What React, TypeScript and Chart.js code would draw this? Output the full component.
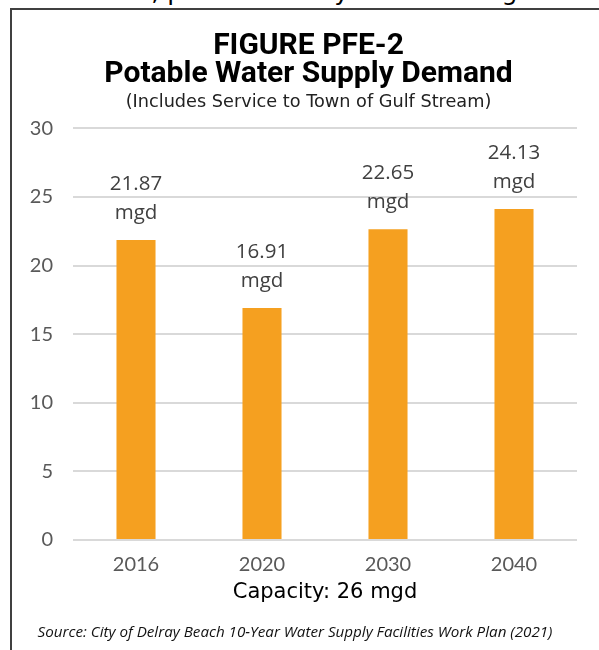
import React, { useEffect, useRef } from 'react';
import { Chart, registerables } from 'chart.js';

Chart.register(...registerables);

const categories = ['2016', '2020', '2030', '2040'];
const demand = [21.87, 16.91, 22.65, 24.13];
const unitLabel = 'mgd';
const titleLines = ['FIGURE PFE-2', 'Potable Water Supply Demand'];
const subtitleText = '(Includes Service to Town of Gulf Stream)';
const capacityText = 'Capacity: 26 mgd';
const sourceText = 'Source: City of Delray Beach 10-Year Water Supply Facilities Work Plan (2021)';
const headerFragment = 'service area, predominantly used for irrigation';
const yMin = 0;
const yMax = 30;
const yStep = 5;

const labelFont = "'Open Sans', 'Noto Sans', sans-serif";
const tickFont = "Lato, 'Noto Sans', sans-serif";
const wideFont = "'DejaVu Sans', sans-serif";
const titleFont = "Roboto, sans-serif";

const titleShift = {
  id: 'titleShift',
  afterLayout(chart: any) {
    chart.boxes.forEach((box: any) => {
      if (box && box.options && box.options.text !== undefined && !box.axis) {
        box.left += 14;
        box.right += 14;
      }
    });
  },
};

const valueLabels = {
  id: 'valueLabels',
  afterDatasetsDraw(chart: any) {
    const ctx = chart.ctx;
    const meta = chart.getDatasetMeta(0);
    ctx.save();
    ctx.fillStyle = '#404040';
    ctx.font = `20.5px ${labelFont}`;
    ctx.textAlign = 'center';
    ctx.textBaseline = 'middle';
    meta.data.forEach((bar: any, i: number) => {
      const v = chart.data.datasets[0].data[i] as number;
      ctx.fillText(v.toFixed(2), bar.x, bar.y - 56);
      ctx.fillText(unitLabel, bar.x, bar.y - 27);
    });
    ctx.restore();
  },
};

const sourceNote = {
  id: 'sourceNote',
  afterDraw(chart: any) {
    const ctx = chart.ctx;
    ctx.save();
    ctx.fillStyle = '#111';
    ctx.font = `italic 15.2px ${labelFont}`;
    ctx.textAlign = 'center';
    ctx.textBaseline = 'middle';
    ctx.fillText(sourceText, 295, 633);
    ctx.restore();
  },
};

export default function App() {
  const canvasRef = useRef<HTMLCanvasElement | null>(null);

  useEffect(() => {
    if (!canvasRef.current) return;
    const chart = new Chart(canvasRef.current, {
      type: 'bar',
      data: {
        labels: categories,
        datasets: [
          {
            data: demand,
            backgroundColor: '#F5A020',
            borderWidth: 0,
            barPercentage: 0.31,
            categoryPercentage: 1,
          },
        ],
      },
      options: {
        responsive: false,
        animation: false,
        devicePixelRatio: 1,
        layout: { padding: { left: 12, right: 22, top: 0, bottom: 39.4 } },
        plugins: {
          legend: { display: false },
          tooltip: { enabled: false },
          title: {
            display: true,
            text: titleLines,
            color: '#000',
            font: { family: titleFont, size: 30, weight: 'bold', lineHeight: 0.93 },
            padding: { top: 33, bottom: 0 },
          },
          subtitle: {
            display: true,
            text: subtitleText,
            color: '#222',
            font: { family: wideFont, size: 17.7, lineHeight: 1.2 },
            padding: { top: 3, bottom: 15.3 },
          },
        },
        scales: {
          x: {
            grid: { display: false, drawTicks: false },
            border: { display: false },
            ticks: {
              color: '#595959',
              font: { family: tickFont, size: 20 },
              padding: 13,
            },
            title: {
              display: true,
              text: capacityText,
              color: '#000',
              font: { family: wideFont, size: 21, lineHeight: 1.2 },
              padding: { top: 0.6, bottom: 5 },
            },
            afterFit(scale: any) {
              scale.height = 70.6;
            },
          },
          y: {
            min: yMin,
            max: yMax,
            grid: { color: '#d9d9d9', lineWidth: 2, drawTicks: false },
            border: { display: false },
            ticks: {
              stepSize: yStep,
              color: '#595959',
              font: { family: tickFont, size: 20 },
              padding: 20,
            },
            afterFit(scale: any) {
              scale.width = 61;
            },
          },
        },
      },
      plugins: [titleShift, valueLabels, sourceNote],
    });
    return () => chart.destroy();
  }, []);

  return (
    <div
      style={{
        position: 'fixed',
        left: 0,
        top: 0,
        width: 599,
        height: 650,
        overflow: 'hidden',
        background: '#fff',
      }}
    >
      <div
        style={{
          position: 'absolute',
          left: -2,
          top: -20,
          fontFamily: wideFont,
          fontSize: 25,
          lineHeight: '24px',
          whiteSpace: 'nowrap',
          color: '#000',
        }}
      >
        {headerFragment}
      </div>
      <div
        style={{
          position: 'absolute',
          left: 10,
          top: 7.5,
          width: 700,
          height: 700,
          borderLeft: '2px solid #404040',
          borderTop: '2px solid #404040',
        }}
      />
      <canvas
        ref={canvasRef}
        width={599}
        height={650}
        style={{ position: 'absolute', left: 0, top: 0, display: 'block' }}
      />
    </div>
  );
}
